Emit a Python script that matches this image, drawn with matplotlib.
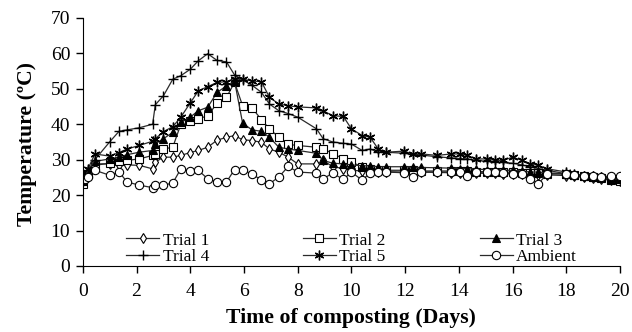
import matplotlib
matplotlib.use('Agg')
import matplotlib.pyplot as plt

# sampling times (days)
days = [0, 0.1, 0.2, 0.45, 1.0, 1.35, 1.65, 2.1, 2.6, 2.7, 3.0, 3.35, 3.65, 4.0, 4.3, 4.65,
        5.0, 5.35, 5.65, 5.95, 6.3, 6.65, 6.95, 7.3, 7.65, 8.0, 8.7, 8.95, 9.3, 9.7,
        10.0, 10.4, 10.7, 11.0, 11.3, 11.95, 12.3, 12.6, 13.2, 13.7, 14.05, 14.3, 14.65,
        15.05, 15.35, 15.65, 16.0, 16.35, 16.65, 16.95, 17.3, 18.0, 18.3, 18.65, 19.0,
        19.3, 19.65, 20.0]

trial1 = [24, 25, 25.6, 28.8, 28.8, 28.6, 28.5, 28.4, 27.4, 29.3, 30.7, 30.7, 31.2, 32, 32.6, 33.5,
          35.5, 36.3, 36.8, 35.6, 35.4, 34.9, 33, 32.1, 30.7, 28.8, 28.8, 29.8, 28, 27.5,
          27, 26.8, 26.7, 26.6, 26.6, 26.5, 26.5, 26.5, 26.4, 26.3, 26.3, 26.2, 26.2,
          26.1, 26.1, 26, 26, 26, 25.8, 25.8, 25.7, 25.5, 25.3, 25, 24.8,
          24.5, 24.2, 24]

trial2 = [23, 25, 26, 28.4, 29, 29.5, 29.8, 30.2, 31.2, 31.5, 33, 33.5, 40, 41, 41.5, 42.4,
          45.9, 47.6, 51.8, 45.2, 44.6, 41.3, 38.7, 36.3, 34.3, 34, 33.5, 33.1, 31.7, 30.3,
          29.3, 28, 27.5, 27, 27, 27, 27, 26.8, 26.8, 26.8, 26.7, 26.7, 26.6,
          26.6, 26.5, 26.5, 26.4, 26.3, 26.2, 26.2, 26, 26, 25.8, 25.5, 25,
          24.8, 24.3, 24]

trial3 = [24, 25.3, 27, 29.5, 30.2, 30.7, 31.4, 32.1, 32.6, 34.5, 35.9, 37.7, 40.5, 42, 43.8, 44.8,
          49, 50.8, 52.2, 40.3, 38.4, 38, 36.3, 33.5, 33, 32.6, 31.8, 29.8, 29, 28.8,
          28.5, 28.3, 28.2, 28, 28, 28, 27.8, 27.8, 27.7, 27.6, 27.5, 27.5, 27.3,
          27.2, 27.2, 27, 27, 26.8, 26.5, 26.5, 26.3, 26, 25.8, 25.5, 25.2,
          25, 24.5, 24.5]

trial4 = [24.5, 25.5, 27, 30, 35, 38, 38.4, 39, 40, 45.5, 48, 52.7, 53.7, 55.5, 57.9, 59.9,
          58, 57.6, 53.9, 52.5, 51, 49, 45.7, 43.8, 43, 42, 38.7, 35.9, 35, 34.6,
          34.4, 32.6, 33, 32.1, 32.1, 31.8, 31.5, 31.3, 30.8, 30.5, 30.3, 30.2, 29.8,
          29.5, 29.3, 29.2, 29, 28.5, 28, 27.5, 27, 26, 25.8, 25.5, 25.3,
          25, 24.8, 24.5]

trial5 = [24, 25, 27.5, 31.6, 31, 32, 33, 34, 35.2, 35.9, 37.9, 39.3, 42, 46, 49.4, 50.6,
          51.8, 52, 52.7, 52.7, 52.2, 52, 47.6, 45.7, 45.2, 44.9, 44.6, 43.8, 42.4, 42.2,
          38.7, 36.8, 36.3, 33, 32.1, 32.4, 31.6, 31.6, 31.2, 31.6, 31.6, 31.2, 30.2,
          30.2, 29.8, 29.8, 30.7, 29.8, 28.8, 28.4, 27.4, 26.5, 26, 25.5, 25.5,
          25, 24.5, 24.5]

ambient = [24.2, 24.5, 25, 27, 25.6, 26.5, 23.7, 22.8, 22.1, 22.8, 22.8, 23.4, 27.4, 26.8, 27, 24.6,
           23.7, 23.7, 27.2, 27, 26, 24.2, 23.2, 25.1, 28.1, 26.5, 26.2, 24.6, 26.2, 24.4,
           26.5, 24.2, 26.3, 26.5, 26.5, 26.3, 25.1, 26.5, 26.5, 26.5, 26.5, 25.3, 26.5,
           26.5, 26.4, 26.2, 26, 26, 24.6, 23.2, 26, 26, 25.8, 25.5, 25.3,
           25, 25.5, 25.5]

plt.rcParams['font.family'] = ['Liberation Serif', 'DejaVu Serif']

fig = plt.figure(figsize=(6.32, 3.32), dpi=100)
ax = fig.add_axes([0.131, 0.199, 0.85, 0.747])

lc = '#2a2a2a'
kw = dict(color=lc, lw=0.9, mec='black')
ax.plot(days, trial1, marker='d', ms=5, mfc='white', mew=0.8, label='Trial 1', **kw)
ax.plot(days, trial2, marker='s', ms=6, mfc='white', mew=0.8, label='Trial 2', **kw)
ax.plot(days, trial3, marker='^', ms=6, mfc='black', mew=0.8, label='Trial 3', **kw)
ax.plot(days, trial4, marker='+', ms=7, mew=1.0, label='Trial 4', **kw)
ax.plot(days, trial5, marker=(6, 2, 0), ms=7, mew=1.0, label='Trial 5', **kw)
ax.plot(days, ambient, marker='o', ms=6, mfc='white', mew=0.8, label='Ambient', **kw)

ax.set_xlim(0, 20)
ax.set_ylim(0, 70)
ax.set_xticks(range(0, 21, 2))
ax.set_yticks(range(0, 71, 10))
ax.spines['top'].set_visible(False)
ax.spines['right'].set_visible(False)
ax.tick_params(labelsize=14, direction='out', length=5, width=1)
ax.tick_params(axis='x', pad=7)
ax.tick_params(axis='y', pad=4)
ax.set_xlabel('Time of composting (Days)', fontsize=15.7, fontweight='bold', labelpad=6)
ax.set_ylabel('Temperature (ºC)', fontsize=15.7, fontweight='bold')
ax.yaxis.set_label_coords(-0.085, 0.49)

h, l = ax.get_legend_handles_labels()
order = [0, 3, 1, 4, 2, 5]
ax.legend([h[i] for i in order], [l[i] for i in order], ncol=3, frameon=False,
          fontsize=12.5, loc='lower left', bbox_to_anchor=(0.065, -0.03),
          handlelength=1.9, handletextpad=0.2, columnspacing=5.4,
          labelspacing=0.0, borderaxespad=0.1)

fig.savefig('out.png', dpi=100)
